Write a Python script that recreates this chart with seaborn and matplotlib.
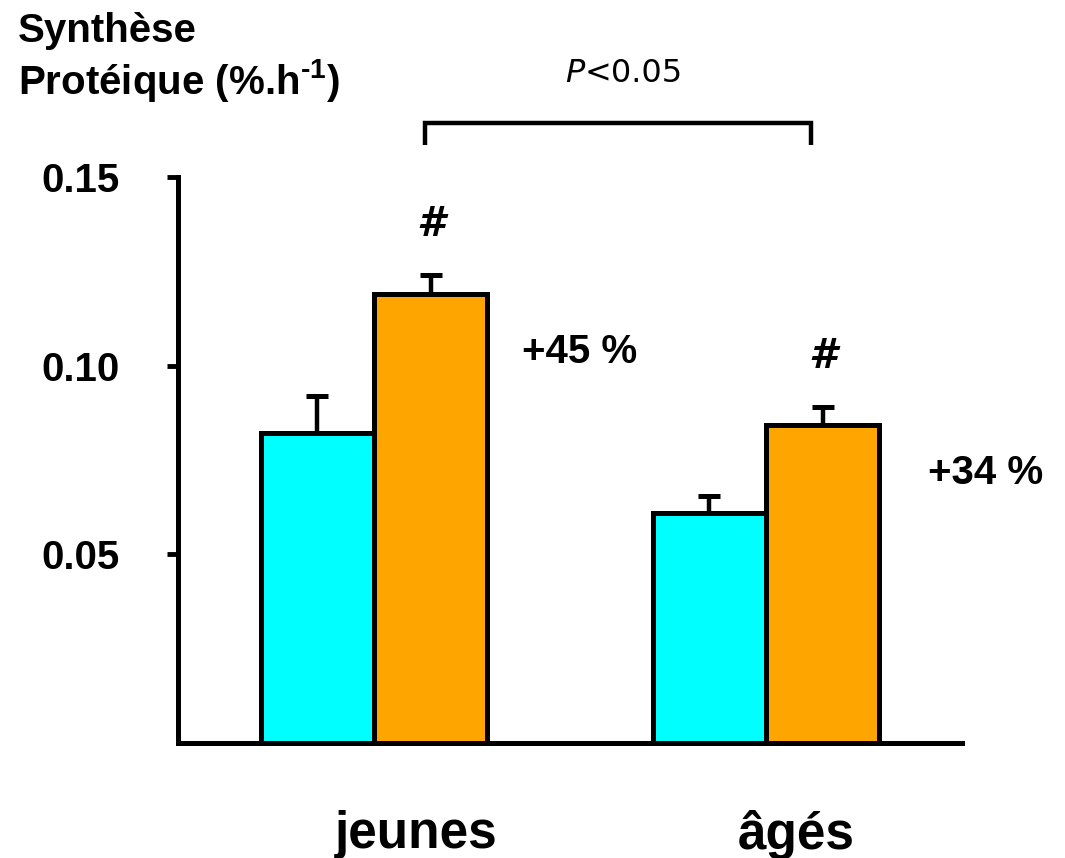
import matplotlib
matplotlib.use("Agg")
import matplotlib.pyplot as plt
import matplotlib.transforms as mtransforms
import seaborn as sns
import pandas as pd
import numpy as np

# ---- data ----
groups = ["jeunes", "âgés"]
conditions = ["contrôle", "stimulé"]
values_ctrl = [0.0822, 0.0610]
values_stim = [0.1190, 0.0843]
err_ctrl = [0.0098, 0.0045]
err_stim = [0.0050, 0.0047]
pct_labels = ["+45 %", "+34 %"]
yticks = [0.05, 0.10, 0.15]
ytick_labels = ["0.05", "0.10", "0.15"]
colors = ["#00FFFF", "#FFA500"]

df = pd.DataFrame({
    "groupe": groups * 2,
    "condition": [conditions[0]] * 2 + [conditions[1]] * 2,
    "valeur": values_ctrl + values_stim,
    "erreur": err_ctrl + err_stim,
})

sns.set_theme(style="white")
plt.rcParams["font.family"] = ["Liberation Sans", "DejaVu Sans"]
plt.rcParams["text.color"] = "black"
plt.rcParams["axes.labelcolor"] = "black"
plt.rcParams["xtick.color"] = "black"
plt.rcParams["ytick.color"] = "black"
plt.rcParams["mathtext.fontset"] = "custom"
plt.rcParams["mathtext.rm"] = "Liberation Sans:bold"
plt.rcParams["mathtext.bf"] = "Liberation Sans:bold"
plt.rcParams["mathtext.it"] = "Liberation Sans:bold:italic"

fig = plt.figure(figsize=(10.65, 8.58), dpi=100)
ax = fig.add_axes([178 / 1065, 1 - 743 / 858, (962 - 178) / 1065, (743 - 177) / 858])

sns.barplot(data=df, x="groupe", y="valeur", hue="condition", order=groups,
            hue_order=conditions, palette=colors, width=0.577, errorbar=None,
            edgecolor="black", linewidth=3.6, saturation=1, ax=ax, legend=False,
            zorder=3)

# error bars (upward only), placed at the centres of the drawn bars
for cont, errs in zip(ax.containers, [err_ctrl, err_stim]):
    for bar, e in zip(cont, errs):
        xc = bar.get_x() + bar.get_width() / 2
        h = bar.get_height()
        ax.errorbar([xc], [h], yerr=[[0], [e]], fmt="none", ecolor="black",
                    elinewidth=3.2, capsize=8, capthick=3.6, zorder=2, clip_on=False)

# '#' markers above stimulated bars
for bar, e in zip(ax.containers[1], err_stim):
    xc = bar.get_x() + bar.get_width() / 2
    ax.text(xc, bar.get_height() + e + 0.0133, "#", ha="center", va="center",
            fontsize=29, fontweight="bold", style="italic",
            family="DejaVu Sans", clip_on=False)

# percentage labels
pct_pos = [(0.525, 0.1036), (1.561, 0.0716)]
for (px, py), lab in zip(pct_pos, pct_labels):
    ax.text(px, py, lab, ha="center", va="center", fontsize=29,
            fontweight="bold", clip_on=False)

# significance bracket
bx0, bx1 = 0.13, 1.115
by_top, by_bot = 0.1643, 0.1585
ax.plot([bx0, bx0, bx1, bx1], [by_bot, by_top, by_top, by_bot], color="black",
        lw=3.2, clip_on=False, solid_capstyle="butt", solid_joinstyle="miter")

# P<0.05
ptxt = fig.text(565 / 1065, 1 - 74 / 858, "P", fontsize=23, style="italic",
                family="DejaVu Sans", ha="left", va="center")
fig.canvas.draw()
ax.annotate("<0.05", xy=(1, 0), xycoords=ptxt, ha="left", va="bottom",
            fontsize=23, family="DejaVu Sans")

# axes styling
ax.set_xlim(-0.5, 1.5)
ax.set_ylim(0, 0.15)
ax.set_yticks(yticks)
ax.set_yticklabels(ytick_labels, fontsize=29, fontweight="bold")
ax.set_xlabel("")
ax.set_ylabel("")
ax.set_xticks(range(len(groups)))
ax.set_xticklabels(groups, fontsize=37, fontweight="bold")
ax.tick_params(axis="x", length=0, pad=48)
ax.tick_params(axis="y", direction="out", length=8, width=3.5, pad=34, left=True)
label_shift_px = [42, 30]
for lbl, sh in zip(ax.get_xticklabels(), label_shift_px):
    off = mtransforms.ScaledTranslation(sh / 100, 0, fig.dpi_scale_trans)
    lbl.set_transform(lbl.get_transform() + off)

for s in ["top", "right"]:
    ax.spines[s].set_visible(False)
for s in ["left", "bottom"]:
    ax.spines[s].set_visible(True)
    ax.spines[s].set_linewidth(3.6)
    ax.spines[s].set_color("black")

# title
fig.text(18 / 1065, 1 - 12 / 858, "Synthèse\nProtéique (%.h$^{\\text{-1}}$)", ha="left",
         va="top", fontsize=29, fontweight="bold", linespacing=1.2)

fig.savefig("out.png", dpi=100)
